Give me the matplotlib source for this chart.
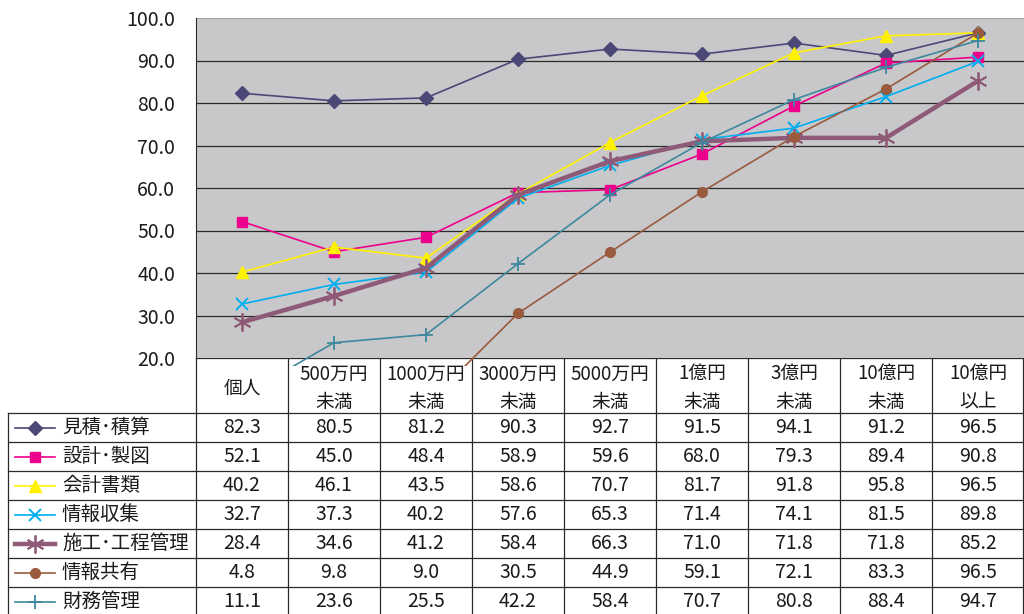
import matplotlib.pyplot as plt
import numpy as np

plt.rcParams["font.family"] = ["Noto Sans CJK JP", "DejaVu Sans"]

categories = ["個人", "500万円\n未満", "1000万円\n未満", "3000万円\n未満", "5000万円\n未満",
              "1億円\n未満", "3億円\n未満", "10億円\n未満", "10億円\n以上"]
series_names = ["見積･積算", "設計･製図", "会計書類", "情報収集", "施工･工程管理", "情報共有", "財務管理"]
mitsumori = [82.3, 80.5, 81.2, 90.3, 92.7, 91.5, 94.1, 91.2, 96.5]
sekkei = [52.1, 45.0, 48.4, 58.9, 59.6, 68.0, 79.3, 89.4, 90.8]
kaikei = [40.2, 46.1, 43.5, 58.6, 70.7, 81.7, 91.8, 95.8, 96.5]
joho_shushu = [32.7, 37.3, 40.2, 57.6, 65.3, 71.4, 74.1, 81.5, 89.8]
seko = [28.4, 34.6, 41.2, 58.4, 66.3, 71.0, 71.8, 71.8, 85.2]
joho_kyoyu = [4.8, 9.8, 9.0, 30.5, 44.9, 59.1, 72.1, 83.3, 96.5]
zaimu = [11.1, 23.6, 25.5, 42.2, 58.4, 70.7, 80.8, 88.4, 94.7]
y_ticks = [20, 30, 40, 50, 60, 70, 80, 90, 100]

series = [mitsumori, sekkei, kaikei, joho_shushu, seko, joho_kyoyu, zaimu]
styles = [
    dict(color="#4B4878", marker="D", ms=7, lw=1.2),
    dict(color="#EC008C", marker="s", ms=7, lw=1.2),
    dict(color="#FFF200", marker="^", ms=8.5, lw=1.2),
    dict(color="#00AEEF", marker="x", ms=8, lw=1.2, mew=1.4),
    dict(color="#8E5A78", marker=(6, 2, 0), ms=13, lw=3.2, mew=1.3),
    dict(color="#9A5A3E", marker="o", ms=7, lw=1.2),
    dict(color="#3D889E", marker="+", ms=10, lw=1.2, mew=1.3),
]

GRAY = "#C8C8CA"
LINE = "#2a2a2a"
TXT = "#1a1a1a"
W, H = 1024, 614
LEFT, COLW = 196, 92
ROW0, ROWH = 413, 29

fig = plt.figure(figsize=(W / 100, H / 100), dpi=100)
tab = fig.add_axes([0, 0, 1, 1])
tab.set_xlim(0, W)
tab.set_ylim(H, 0)
tab.axis("off")

ax = fig.add_axes([LEFT / W, 1 - 366 / H, 828 / W, 348 / H])
ax.set_facecolor("none")
ax.set_xlim(-0.5, len(categories) - 0.5)
ax.set_ylim(20 - 8 / 4.25, 100)
ax.axhspan(20, 100, color=GRAY, lw=0, zorder=0)
for v in y_ticks[1:-1]:
    ax.axhline(v, color=LINE, lw=0.9, zorder=1)
ax.axhline(100, color="#9a9a9a", lw=1.2, zorder=1)
for s in ["top", "right", "bottom"]:
    ax.spines[s].set_visible(False)
ax.spines["left"].set_bounds(20, 100)
ax.spines["left"].set_color(LINE)
ax.set_xticks([])
ax.set_yticks(y_ticks, [f"{v:.1f}" for v in y_ticks])
ax.tick_params(axis="y", length=0, pad=15, labelsize=14, labelcolor=TXT)

x = np.arange(len(categories))
for vals, st in zip(series, styles):
    ax.plot(x, vals, zorder=3, **st)

# table grid
ncol = len(categories)
right = LEFT + COLW * ncol - 1
tab.plot([LEFT, right], [358, 358], color=LINE, lw=0.9)
for k in range(len(series) + 1):
    yy = ROW0 + ROWH * k
    tab.plot([8, right], [yy, yy], color=LINE, lw=0.9)
tab.plot([8, 8], [ROW0, H], color=LINE, lw=0.9)
for k in range(ncol + 1):
    xx = min(LEFT + COLW * k, right)
    tab.plot([xx, xx], [358, H], color=LINE, lw=0.9)

# header
for k, cat in enumerate(categories):
    tab.text(LEFT + COLW * (k + 0.5), 388, cat, ha="center", va="center",
             fontsize=13.5, color=TXT, linespacing=1.45)

# rows
for r, (name, vals, st) in enumerate(zip(series_names, series, styles)):
    cy = ROW0 + ROWH * (r + 0.5)
    tab.plot([15, 55], [cy, cy], color=st["color"], lw=st["lw"])
    tab.plot([35], [cy], color=st["color"], marker=st["marker"],
             ms=st["ms"], mew=st.get("mew", 1.0))
    tab.text(62, cy, name, ha="left", va="center", fontsize=14, color=TXT)
    for k, v in enumerate(vals):
        tab.text(LEFT + COLW * (k + 0.5), cy, f"{v:.1f}", ha="center", va="center",
                 fontsize=14, color=TXT)

fig.savefig("out.png", dpi=100)
